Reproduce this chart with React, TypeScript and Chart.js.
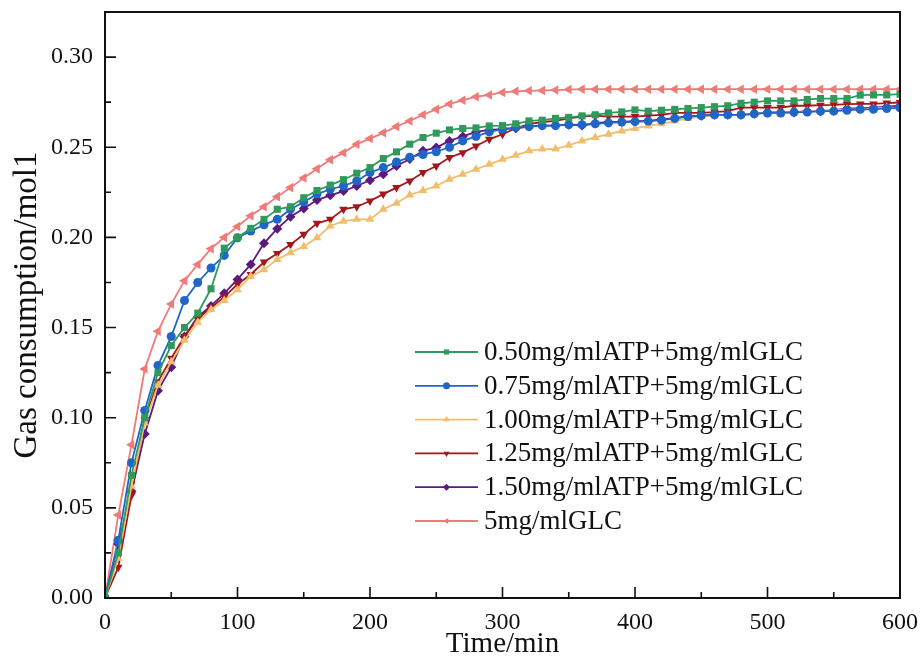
import { useEffect, useRef } from "react";
import { Chart, registerables } from "chart.js";

Chart.register(...registerables);

const TIME_MIN = [
  0, 10, 20, 30, 40, 50, 60, 70, 80, 90, 100, 110, 120, 130, 140, 150, 160, 170, 180, 190, 200,
  210, 220, 230, 240, 250, 260, 270, 280, 290, 300, 310, 320, 330, 340, 350, 360, 370, 380, 390, 400,
  410, 420, 430, 440, 450, 460, 470, 480, 490, 500, 510, 520, 530, 540, 550, 560, 570, 580, 590, 600,
];

const SERIES_LABELS = [
  "0.50mg/mlATP+5mg/mlGLC",
  "0.75mg/mlATP+5mg/mlGLC",
  "1.00mg/mlATP+5mg/mlGLC",
  "1.25mg/mlATP+5mg/mlGLC",
  "1.50mg/mlATP+5mg/mlGLC",
  "5mg/mlGLC",
];

const ATP_050 = [
  0, 0.025, 0.068, 0.1, 0.125, 0.14, 0.15, 0.158, 0.1715, 0.194, 0.2, 0.205, 0.21, 0.2156, 0.217,
  0.222, 0.226, 0.229, 0.232, 0.2356, 0.2387, 0.2437, 0.2474, 0.2517, 0.2554, 0.2578, 0.2596, 0.2604,
  0.2607, 0.2618, 0.262, 0.263, 0.2646, 0.265, 0.266, 0.2665, 0.2674, 0.268, 0.269, 0.2696, 0.2707,
  0.27, 0.2705, 0.271, 0.2715, 0.272, 0.2725, 0.273, 0.2744, 0.275, 0.2757, 0.2757, 0.2757, 0.2765,
  0.277, 0.277, 0.277, 0.2789, 0.279, 0.279, 0.2794,
];

const ATP_075 = [
  0, 0.032, 0.075, 0.104, 0.129, 0.145, 0.165, 0.175, 0.183, 0.19, 0.1998, 0.2035, 0.207, 0.21, 0.2156,
  0.2196, 0.224, 0.2267, 0.2285, 0.2313, 0.236, 0.2387, 0.2418, 0.2445, 0.246, 0.2475, 0.25, 0.2535,
  0.256, 0.2585, 0.26, 0.261, 0.2615, 0.262, 0.262, 0.2625, 0.2625, 0.263, 0.2635, 0.264, 0.2642,
  0.2645, 0.265, 0.266, 0.267, 0.2675, 0.268, 0.268, 0.268, 0.2685, 0.269, 0.269, 0.2695, 0.2695,
  0.27, 0.27, 0.2705, 0.271, 0.271, 0.2715, 0.2718,
];

const ATP_100 = [
  0, 0.022, 0.062, 0.097, 0.118, 0.131, 0.143, 0.153, 0.16, 0.165, 0.171, 0.1785, 0.182, 0.1878,
  0.1915, 0.195, 0.1998, 0.2063, 0.209, 0.21, 0.21, 0.2156, 0.219, 0.2235, 0.226, 0.2285, 0.2322,
  0.235, 0.2378, 0.2405, 0.2433, 0.2455, 0.248, 0.249, 0.249, 0.2511, 0.2535, 0.2554, 0.2572, 0.259,
  0.2604, 0.2618, 0.263, 0.2645, 0.266, 0.267, 0.2675, 0.268, 0.268, 0.2685, 0.269, 0.269, 0.2695,
  0.27, 0.27, 0.2705, 0.271, 0.271, 0.2715, 0.272, 0.272,
];

const ATP_125 = [
  0, 0.017, 0.057, 0.099, 0.12, 0.133, 0.145, 0.155, 0.161, 0.167, 0.174, 0.1794, 0.1863, 0.191, 0.196,
  0.2017, 0.2078, 0.21, 0.2156, 0.217, 0.2202, 0.224, 0.2276, 0.2313, 0.236, 0.2396, 0.2443, 0.247,
  0.2507, 0.2544, 0.2572, 0.2605, 0.2628, 0.264, 0.2646, 0.266, 0.267, 0.2675, 0.267, 0.267, 0.267,
  0.2675, 0.268, 0.269, 0.269, 0.269, 0.2695, 0.27, 0.272, 0.272, 0.272, 0.272, 0.273, 0.273, 0.2733,
  0.2735, 0.2739, 0.274, 0.274, 0.2745, 0.2748,
];

const ATP_150 = [
  0, 0.03, 0.059, 0.091, 0.115, 0.128, 0.145, 0.156, 0.162, 0.169, 0.1767, 0.185, 0.1967, 0.2048,
  0.2115, 0.216, 0.2207, 0.2233, 0.2257, 0.2285, 0.2317, 0.235, 0.2396, 0.2435, 0.248, 0.2498, 0.2535,
  0.256, 0.2585, 0.2596, 0.26, 0.2605, 0.2615, 0.262, 0.262, 0.2625, 0.262, 0.2633, 0.264, 0.264,
  0.2644, 0.2645, 0.2656, 0.266, 0.2674, 0.2675, 0.268, 0.268, 0.268, 0.2685, 0.2693, 0.2693, 0.2693,
  0.27, 0.27, 0.2705, 0.2715, 0.2715, 0.272, 0.2725, 0.273,
];

const GLC_ONLY = [
  0, 0.046, 0.085, 0.127, 0.148, 0.163, 0.176, 0.185, 0.1937, 0.2, 0.206, 0.212, 0.217, 0.2226, 0.2276,
  0.233, 0.238, 0.243, 0.247, 0.2517, 0.2548, 0.258, 0.2615, 0.2646, 0.268, 0.271, 0.274, 0.276, 0.278,
  0.279, 0.2804, 0.281, 0.2813, 0.2815, 0.2817, 0.282, 0.2822, 0.2822, 0.2822, 0.2822, 0.2822, 0.2822,
  0.2822, 0.2822, 0.2822, 0.2822, 0.2822, 0.2822, 0.2822, 0.2822, 0.2822, 0.2822, 0.2822, 0.2822,
  0.2822, 0.2822, 0.2822, 0.2822, 0.2822, 0.2822, 0.2822,
];

const SERIES_VALUES = [ATP_050, ATP_075, ATP_100, ATP_125, ATP_150, GLC_ONLY];
const COLORS = ["#2f9a5c", "#1f66c6", "#f2bd6b", "#a3171b", "#5c1a7e", "#ef7b78"];
const POINT_STYLES = ["rect", "circle", "triangle", "triangle", "rectRot", "triangle"];
const POINT_ROTATIONS = [0, 0, 0, 180, 0, -90];
const POINT_RADII = [5, 4.5, 5, 5, 5, 5.5];

const Y_TICK_MAX = 0.3;
const FONT = "'Liberation Serif', 'Times New Roman', serif";

function drawMarker(ctx: CanvasRenderingContext2D, style: string, rot: number, x: number, y: number, r: number) {
  ctx.save();
  ctx.translate(x, y);
  ctx.rotate((rot * Math.PI) / 180);
  ctx.beginPath();
  if (style === "circle") {
    ctx.arc(0, 0, r, 0, Math.PI * 2);
  } else if (style === "rect") {
    ctx.rect(-r * 0.75, -r * 0.75, r * 1.5, r * 1.5);
  } else if (style === "rectRot") {
    ctx.moveTo(0, -r);
    ctx.lineTo(r, 0);
    ctx.lineTo(0, r);
    ctx.lineTo(-r, 0);
  } else {
    ctx.moveTo(0, -r);
    ctx.lineTo(r * 0.866, r * 0.5);
    ctx.lineTo(-r * 0.866, r * 0.5);
  }
  ctx.closePath();
  ctx.fill();
  ctx.restore();
}

const framePlugin = {
  id: "frameAndTicks",
  afterDraw(chart: any) {
    const ctx = chart.ctx as CanvasRenderingContext2D;
    const { left, right, top, bottom } = chart.chartArea;
    const xs = chart.scales.x;
    const ys = chart.scales.y;
    ctx.save();
    ctx.strokeStyle = "#111";
    ctx.lineWidth = 2;
    ctx.strokeRect(left, top, right - left, bottom - top);
    ctx.lineWidth = 1.6;
    const xt = xs.ticks.map((t: any) => t.value);
    ctx.beginPath();
    for (let i = 0; i < xt.length; i++) {
      const px = xs.getPixelForValue(xt[i]);
      ctx.moveTo(px, bottom);
      ctx.lineTo(px, bottom - 11);
      if (i < xt.length - 1) {
        const pm = xs.getPixelForValue((xt[i] + xt[i + 1]) / 2);
        ctx.moveTo(pm, bottom);
        ctx.lineTo(pm, bottom - 6);
      }
    }
    const yt = ys.ticks.map((t: any) => t.value);
    for (let i = 0; i < yt.length; i++) {
      const py = ys.getPixelForValue(yt[i]);
      ctx.moveTo(left, py);
      ctx.lineTo(left + 11, py);
      const next = i < yt.length - 1 ? yt[i + 1] : yt[i] + (yt[1] - yt[0]);
      const mid = (yt[i] + next) / 2;
      if (mid <= ys.max) {
        const pm = ys.getPixelForValue(mid);
        ctx.moveTo(left, pm);
        ctx.lineTo(left + 6, pm);
      }
    }
    ctx.stroke();

    // legend
    const lx0 = 415;
    const lx1 = 478;
    const ty = 352;
    const dy = 33.8;
    ctx.font = `27px ${FONT}`;
    ctx.textBaseline = "middle";
    ctx.textAlign = "left";
    chart.data.datasets.forEach((ds: any, i: number) => {
      const y = ty + i * dy;
      ctx.strokeStyle = ds.borderColor;
      ctx.lineWidth = 1.8;
      ctx.beginPath();
      ctx.moveTo(lx0, y);
      ctx.lineTo(lx1, y);
      ctx.stroke();
      ctx.fillStyle = ds.borderColor;
      drawMarker(ctx, ds.pointStyle, ds.pointRotation, (lx0 + lx1) / 2, y, 3.5);
      ctx.fillStyle = "#111";
      ctx.fillText(ds.label, 484, y + 1);
    });
    ctx.restore();
  },
};

export default function App() {
  const ref = useRef<HTMLCanvasElement | null>(null);
  useEffect(() => {
    if (!ref.current) return;
    const datasets = SERIES_LABELS.map((label, i) => ({
      label,
      data: TIME_MIN.map((t, j) => ({ x: t, y: SERIES_VALUES[i][j] })),
      borderColor: COLORS[i],
      backgroundColor: COLORS[i],
      borderWidth: 1.8,
      pointStyle: POINT_STYLES[i],
      pointRotation: POINT_ROTATIONS[i],
      pointRadius: POINT_RADII[i],
      pointBorderWidth: 0,
      tension: 0,
    }));
    const chart = new Chart(ref.current, {
      type: "line",
      data: { datasets },
      options: {
        responsive: false,
        animation: false,
        devicePixelRatio: 1,
        layout: { padding: { top: 12, right: 21, left: 0, bottom: 0 } },
        plugins: { legend: { display: false }, tooltip: { enabled: false } },
        scales: {
          x: {
            type: "linear",
            min: 0,
            max: 600,
            grid: { display: false, drawTicks: false },
            border: { display: false },
            ticks: {
              stepSize: 100,
              padding: 10,
              color: "#111",
              font: { family: FONT, size: 24 },
              callback: (v: any) => String(v),
            },
            title: {
              display: true,
              text: "Time/min",
              color: "#111",
              font: { family: FONT, size: 29 },
              padding: { top: 0, bottom: 1 },
            },
            afterFit: (s: any) => {
              s.height = 65;
              s.paddingLeft = 0;
              s.paddingRight = 0;
            },
          },
          y: {
            type: "linear",
            min: 0,
            max: 0.325,
            grid: { display: false, drawTicks: false },
            border: { display: false },
            afterBuildTicks: (s: any) => {
              s.ticks = s.ticks.filter((t: any) => t.value <= Y_TICK_MAX + 1e-9);
            },
            ticks: {
              stepSize: 0.05,
              padding: 12,
              color: "#111",
              font: { family: FONT, size: 24 },
              callback: (v: any) => Number(v).toFixed(2),
            },
            title: {
              display: true,
              text: "Gas consumption/mol1",
              color: "#111",
              font: { family: FONT, size: 33 },
              padding: { top: 8, bottom: 0 },
            },
            afterFit: (s: any) => {
              s.width = 105;
              s.paddingTop = 0;
              s.paddingBottom = 0;
            },
          },
        },
      },
      plugins: [framePlugin],
    } as any);
    return () => chart.destroy();
  }, []);
  return (
    <div style={{ position: "absolute", left: 0, top: 0, width: 921, height: 663, background: "#fff" }}>
      <canvas ref={ref} width={921} height={663} />
    </div>
  );
}
